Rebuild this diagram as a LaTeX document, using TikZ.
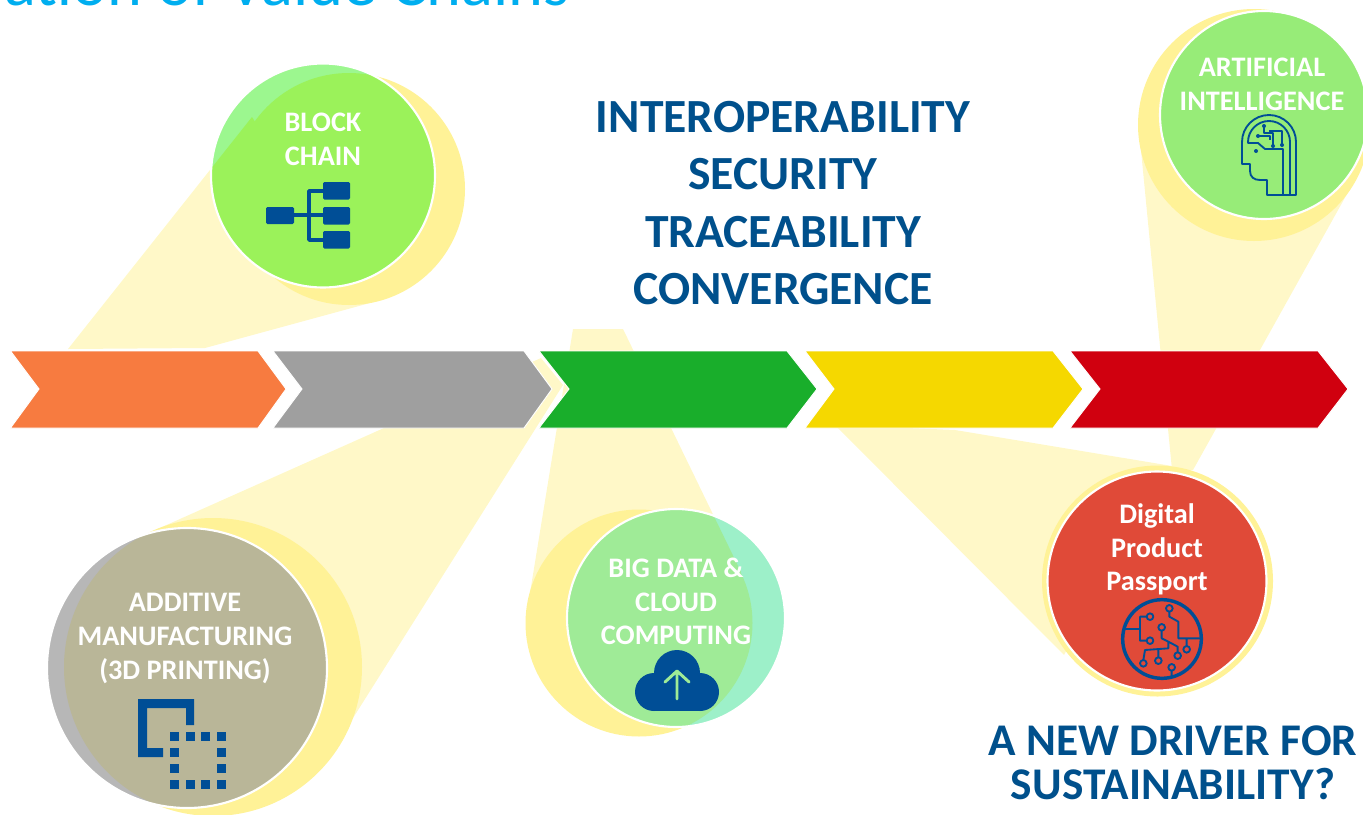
\documentclass[tikz,border=0pt]{standalone}
\usepackage{fontspec}
\setmainfont{Carlito}
\definecolor{beamcol}{HTML}{FFF8C8}
\definecolor{halocol}{HTML}{FFF297}
\definecolor{iconblue}{HTML}{004E96}
\definecolor{headblue}{HTML}{00508C}
\definecolor{titlecyan}{HTML}{00AEEF}
\tikzset{
  beam/.style={fill=beamcol, draw=none},
  halo/.style={fill=halocol, draw=none},
  ring/.style={draw=white, line width=1.6pt},
  chevron/.style={draw=white, line width=0.7pt},
  circtext/.style={text=white, font=\fontsize{21.2}{25.2}\selectfont\bfseries, align=center},
  headtext/.style={text=headblue, font=\fontsize{35.7}{43.2}\selectfont\bfseries, align=center},
  icondraw/.style={draw=iconblue, line width=1.4pt, line join=round},
  iconfill/.style={fill=iconblue, draw=none}
}
\begin{document}
\begin{tikzpicture}[x=0.75pt,y=-0.75pt]
  \useasboundingbox (0,0) rectangle (1363,814);

  % Title cut by the top edge
  \node[anchor=base west, inner sep=0pt, text=titlecyan, font=\fontsize{49.8}{60}\selectfont] (title) at (4,5) {ation of Value Chains};

  % Beams
  \fill[beam] (68,349) -- (252,117) -- (370,303) -- (205,348) -- cycle;
  \fill[beam] (153,531) -- (541,358) -- (563,385) -- (336,745) -- cycle;
  \fill[beam] (573,329) -- (623,329) -- (741,572) -- (530,593) -- cycle;
  \fill[beam] (835,425) -- (955,430) -- (1172,466) -- (1064,655) -- cycle;
  \fill[beam] (1140,140) -- (1352,185) -- (1193,470) -- (1172,470) -- cycle;

  % Block chain
  \fill[halo] (349,189) circle[radius=116];
  \fill[fill={rgb,255:red,156;green,247;blue,143}] (323,175.5) circle[radius=112];
  \begin{scope}
    \clip (323,175.5) circle[radius=112];
    \fill[fill={rgb,255:red,155;green,242;blue,90}] (349,189) circle[radius=116];
    \fill[fill={rgb,255:red,155;green,242;blue,90}] (68,349) -- (252,117) -- (370,303) -- (205,348) -- cycle;
  \end{scope}
  \draw[ring] (323,175.5) circle[radius=112];

  % Additive manufacturing
  \fill[halo] (213,667) circle[radius=149];
  \fill[fill={rgb,255:red,183;green,183;blue,183}] (187,668) circle[radius=140];
  \begin{scope}
    \clip (187,668) circle[radius=140];
    \fill[fill={rgb,255:red,185;green,182;blue,152}] (213,667) circle[radius=149];
  \end{scope}
  \draw[ring] (187,668) circle[radius=140];

  % Big data
  \fill[halo] (639,623) circle[radius=113.5];
  \fill[fill={rgb,255:red,157;green,240;blue,201}] (676,618) circle[radius=109];
  \begin{scope}
    \clip (676,618) circle[radius=109];
    \fill[fill={rgb,255:red,159;green,235;blue,151}] (639,623) circle[radius=113.5];
    \fill[fill={rgb,255:red,159;green,235;blue,151}] (573,329) -- (623,329) -- (741,572) -- (530,593) -- cycle;
  \end{scope}
  \draw[ring] (676,618) circle[radius=109];

  % Digital product passport
  \fill[halo] (1157.5,581) circle[radius=115.5];
  \fill[fill={rgb,255:red,224;green,74;blue,56}, draw=white, line width=1.6pt] (1157,581) circle[radius=109.5];

  % Artificial intelligence
  \fill[halo] (1254,125) circle[radius=116];
  \fill[fill={rgb,255:red,151;green,236;blue,120}, draw=white, line width=1.6pt] (1264,115) circle[radius=104];

  % Chevrons
  \fill[chevron, fill={rgb,255:red,247;green,123;blue,64}] (10.5,351) -- (258,351) -- (286,389) -- (258,428) -- (10.5,428) -- (39,389) -- cycle;
  \fill[chevron, fill={rgb,255:red,159;green,159;blue,159}] (273,351) -- (524,351) -- (552,389) -- (524,428) -- (273,428) -- (302,389) -- cycle;
  \fill[chevron, fill={rgb,255:red,25;green,174;blue,43}] (539,351) -- (787,351) -- (817,389) -- (787,428) -- (539,428) -- (569,389) -- cycle;
  \fill[chevron, fill={rgb,255:red,245;green,216;blue,0}] (805,351) -- (1053,351) -- (1083,389) -- (1053,428) -- (805,428) -- (834,389) -- cycle;
  \fill[chevron, fill={rgb,255:red,208;green,0;blue,15}] (1070,351) -- (1318,351) -- (1348,389) -- (1318,428) -- (1070,428) -- (1100,389) -- cycle;

  % Block chain icon
  \draw[icondraw, line width=2.6pt] (294,215) -- (323,215) (323,191) -- (309,191) -- (309,240) -- (323,240);
  \fill[iconfill, rounded corners=1pt] (266,207) rectangle (294,224);
  \foreach \ytop in {182,207,231}
    \fill[iconfill, rounded corners=1pt] (323,\ytop) rectangle (350,\ytop+17.5);

  % Additive icon
  \fill[iconfill] (138,699) -- (194,699) -- (194,725) -- (186,725) -- (186,708) -- (147,708) -- (147,748) -- (163,748) -- (163,757) -- (138,757) -- cycle;
  \foreach \xcol in {170,186,201,217} {
    \fill[iconfill] (\xcol,732) rectangle +(9,9);
    \fill[iconfill] (\xcol,780) rectangle +(9,9);
  }
  \foreach \yrow in {748,764} {
    \fill[iconfill] (170,\yrow) rectangle +(9,9);
    \fill[iconfill] (217,\yrow) rectangle +(9,9);
  }

  % Cloud icon
  \fill[iconfill] (677,673) circle[radius=23];
  \fill[iconfill] (654,692) circle[radius=19];
  \fill[iconfill] (700,692) circle[radius=19];
  \fill[iconfill] (654,685) rectangle (700,711);
  \draw[draw={rgb,255:red,159;green,235;blue,151}, line width=2.2pt, line cap=round, line join=round] (677,699) -- (677,672) (665,682) -- (677,671) -- (689,682);

  % Head icon
  \begin{scope}[icondraw]
    \draw (1296,195) -- (1296,142) arc[start angle=0, end angle=-180, radius=27] -- (1242,164) -- (1250,164) -- (1250,171) .. controls (1250,177) and (1254,180) .. (1260,180) -- (1267,180) -- (1267,195) -- cycle;
    \draw (1290,195) -- (1290,142) arc[start angle=0, end angle=-180, radius=21] -- (1248,143) -- (1258,143) -- (1265,149) -- (1283,149) -- (1283,195);
    \draw[line width=1pt] (1264,126) -- (1264,133) -- (1273,133) -- (1273,146) (1258,136) -- (1270,136) -- (1270,140) (1269,131) -- (1282,131) -- (1282,145);
  \end{scope}
  \foreach \dotx/\doty in {1264/126,1258/136,1282/145,1273/146,1256/151}
    \fill[iconfill] (\dotx,\doty) circle[radius=2];

  % Circuit icon
  \begin{scope}[shift={(1030,430)},scale=1/3]
    \draw[icondraw, line width=2.6pt] (396,627) circle[radius=118];
    \draw[icondraw] (350,560) -- (330,560) -- (330,632) -- (350,632) (280,597) -- (330,597)
      (418,545) -- (418,560) -- (445,575) -- (445,625) -- (510,625) (470,625) -- (470,650)
      (395,602) -- (395,625) -- (415,635) -- (415,655) -- (345,660) -- (340,690) (385,660) -- (385,682)
      (415,635) -- (443,650) -- (443,668) (425,722) -- (425,742);
    \foreach \px/\py in {360/560,418/535,395/592,360/632,470/658,443/677,385/692,340/700,425/712}
      \draw[icondraw] (\px,\py) circle[radius=10];
  \end{scope}

  % Labels
  \node[circtext] (blocktxt) at (323,139.5) {BLOCK\\CHAIN};
  \node[circtext] (aitxt) at (1262,84.5) {ARTIFICIAL\\INTELLIGENCE};
  \node[circtext] (addtxt) at (185,638.5) {ADDITIVE\\MANUFACTURING\\(3D PRINTING)};
  \node[circtext] (bigtxt) at (676,601.5) {BIG DATA \&\\CLOUD\\COMPUTING};
  \node[circtext] (dpptxt) at (1157,549.5) {Digital\\Product\\Passport};
  \node[headtext] (keytxt) at (783,203) {INTEROPERABILITY\\SECURITY\\TRACEABILITY\\CONVERGENCE};
  \node[headtext, font=\fontsize{34}{34}\selectfont\bfseries] (drivertxt) at (1173,763) {A NEW DRIVER FOR\\[-0.02em]SUSTAINABILITY?};
\end{tikzpicture}
\end{document}
